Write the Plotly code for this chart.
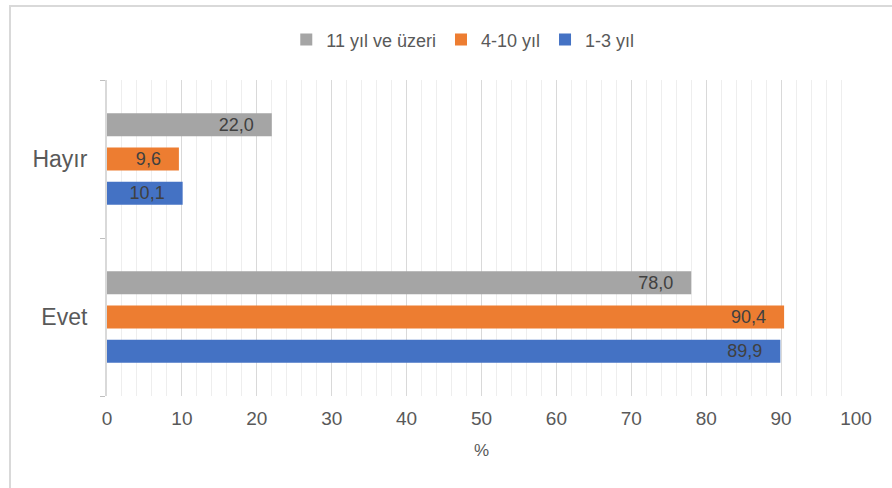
import plotly.graph_objects as go

categories = ["Evet", "Hayır"]
series_names = ["1-3 yıl", "4-10 yıl", "11 yıl ve üzeri"]
series_colors = ["#4472C4", "#ED7D31", "#A5A5A5"]
values_1_3 = [89.9, 10.1]
values_4_10 = [90.4, 9.6]
values_11 = [78.0, 22.0]
x_ticks = [0, 10, 20, 30, 40, 50, 60, 70, 80, 90, 100]

all_values = [values_1_3, values_4_10, values_11]
PAD = "\u00a0" * 3

fig = go.Figure()
for name, color, vals in zip(series_names, series_colors, all_values):
    fig.add_trace(go.Bar(
        y=categories, x=vals, name=name, orientation="h",
        marker=dict(color=color, line=dict(width=0)),
        text=[f"{v:.1f}".replace(".", ",") + PAD for v in vals],
        textposition="inside", insidetextanchor="end", constraintext="none",
        textfont=dict(family="Liberation Sans, Arial", size=18, color="#404040"),
        cliponaxis=False,
    ))

fig.update_layout(
    width=892, height=488,
    margin=dict(l=107, r=36, t=80, b=92),
    paper_bgcolor="white", plot_bgcolor="white",
    barmode="group", bargap=0.35, bargroupgap=0.33,
    font=dict(family="Liberation Sans, Arial", color="#595959"),
    legend=dict(
        orientation="h", traceorder="reversed",
        x=0.475, xanchor="center", y=1.127, yanchor="middle",
        font=dict(family="Liberation Sans, Arial", size=18, color="#595959"),
        itemwidth=30,
    ),
    xaxis=dict(
        range=[0, 100], tickvals=x_ticks, ticks="",
        showgrid=True, gridcolor="#d9d9d9", gridwidth=1,
        minor=dict(dtick=2, showgrid=True, gridcolor="#eeeeee", gridwidth=1),
        zeroline=False, showline=False,
        tickfont=dict(size=19, color="#595959"),
        ticklabelstandoff=9,
        title=dict(text="%", font=dict(size=17, color="#595959"), standoff=16),
    ),
    yaxis=dict(
        showline=True, linecolor="#d9d9d9", linewidth=2,
        ticks="outside", tickson="boundaries", ticklen=5, tickcolor="#bfbfbf",
        tickfont=dict(size=23, color="#595959"),
        ticklabelstandoff=13,
        showgrid=False, zeroline=False,
    ),
    shapes=[dict(
        type="rect", xref="paper", yref="paper",
        x0=-0.1295, x1=2.0, y0=-1.0, y1=1.234,
        line=dict(color="#d9d9d9", width=2), fillcolor="rgba(0,0,0,0)", layer="below",
    )],
)

fig.write_html("out.html")
